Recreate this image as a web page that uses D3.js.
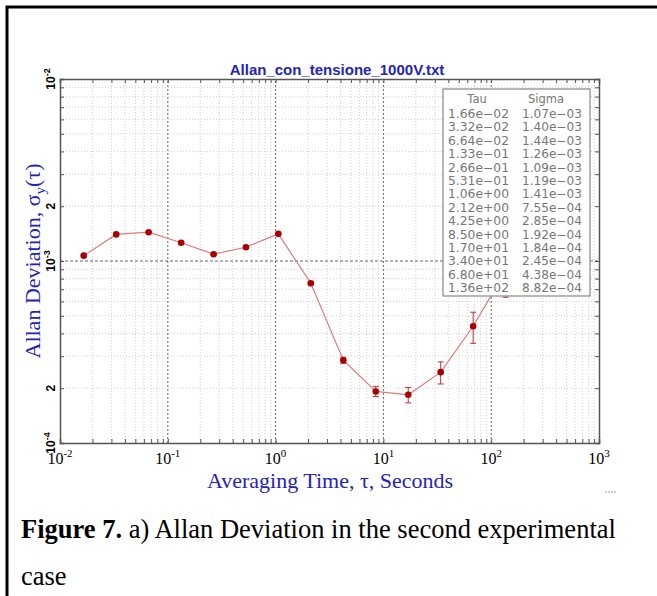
<!DOCTYPE html>
<html>
<head>
<meta charset="utf-8">
<script src="https://d3js.org/d3.v7.min.js"></script>
<style>
  body { margin: 0; background: white; }
  svg { display: block; }
</style>
</head>
<body>
<svg id="chart" width="657" height="596"></svg>
<script>
const tau   = [1.66e-2, 3.32e-2, 6.64e-2, 1.33e-1, 2.66e-1, 5.31e-1, 1.06e0, 2.12e0, 4.25e0, 8.50e0, 1.70e1, 3.40e1, 6.80e1, 1.36e2];
const sigma = [1.07e-3, 1.40e-3, 1.44e-3, 1.26e-3, 1.09e-3, 1.19e-3, 1.41e-3, 7.55e-4, 2.85e-4, 1.92e-4, 1.84e-4, 2.45e-4, 4.38e-4, 8.82e-4];
const sigmaErr = [4e-6, 6e-6, 8e-6, 8e-6, 8e-6, 1e-5, 1.4e-5, 1.6e-5, 1.1e-5, 1.2e-5, 1.8e-5, 3.4e-5, 8.5e-5, 2.5e-4];
const tauLabels   = ["1.66e-02","3.32e-02","6.64e-02","1.33e-01","2.66e-01","5.31e-01","1.06e+00","2.12e+00","4.25e+00","8.50e+00","1.70e+01","3.40e+01","6.80e+01","1.36e+02"];
const sigmaLabels = ["1.07e-03","1.40e-03","1.44e-03","1.26e-03","1.09e-03","1.19e-03","1.41e-03","7.55e-04","2.85e-04","1.92e-04","1.84e-04","2.45e-04","4.38e-04","8.82e-04"];
const xDecades = [-2, -1, 0, 1, 2, 3];
const yTicks = [
  {v: 1e-2, base: "10", exp: "-2"},
  {v: 2e-3, base: "2", exp: ""},
  {v: 1e-3, base: "10", exp: "-3"},
  {v: 2e-4, base: "2", exp: ""},
  {v: 1e-4, base: "10", exp: "-4"}
];

const svg = d3.select("svg#chart");
const serif = "'Liberation Serif', 'Times New Roman', serif";
const sans = "'Liberation Sans', Arial, sans-serif";
const blue = "#2424b8";

// outer frame of the figure
svg.append("rect")
   .attr("x", 7).attr("y", 7).attr("width", 700).attr("height", 700)
   .attr("fill", "none").attr("stroke", "black").attr("stroke-width", 3);

const x = d3.scaleLog().domain([1e-2, 1e3]).range([60, 599]);
const y = d3.scaleLog().domain([1e-4, 1e-2]).range([443, 79]);

// minor values
const xMinor = [], yMinor = [];
for (let e = -2; e < 3; e++) for (let m = 2; m <= 9; m++) xMinor.push(m * Math.pow(10, e));
for (let e = -4; e < -2; e++) for (let m = 2; m <= 9; m++) yMinor.push(m * Math.pow(10, e));

const grid = svg.append("g").attr("class", "gridlines");
grid.selectAll("line.vx").data(xMinor).join("line")
    .attr("x1", d => x(d)).attr("x2", d => x(d))
    .attr("y1", y(1e-4)).attr("y2", y(1e-2))
    .attr("stroke", "#cfcfcf").attr("stroke-dasharray", "1,2");
grid.selectAll("line.hy").data(yMinor).join("line")
    .attr("y1", d => y(d)).attr("y2", d => y(d))
    .attr("x1", x(1e-2)).attr("x2", x(1e3))
    .attr("stroke", "#cfcfcf").attr("stroke-dasharray", "1,2");
grid.selectAll("line.mx").data([1e-1, 1, 10, 100]).join("line")
    .attr("x1", d => x(d)).attr("x2", d => x(d))
    .attr("y1", y(1e-4)).attr("y2", y(1e-2))
    .attr("stroke", "#666").attr("stroke-dasharray", "2,2");
grid.append("line")
    .attr("y1", y(1e-3)).attr("y2", y(1e-3))
    .attr("x1", x(1e-2)).attr("x2", x(1e3))
    .attr("stroke", "#666").attr("stroke-dasharray", "3,2");

// axes with ticks on all sides
const axBottom = d3.axisBottom(x).tickValues(xMinor.concat([1e-1, 1, 10, 100])).tickSize(-4).tickFormat("");
const axTop = d3.axisTop(x).tickValues(xMinor.concat([1e-1, 1, 10, 100])).tickSize(-4).tickFormat("");
const axLeft = d3.axisLeft(y).tickValues(yMinor.concat([1e-3])).tickSize(-4).tickFormat("");
const axRight = d3.axisRight(y).tickValues(yMinor.concat([1e-3])).tickSize(-4).tickFormat("");
[[axBottom, `translate(0,${y(1e-4)})`], [axTop, `translate(0,${y(1e-2)})`],
 [axLeft, `translate(${x(1e-2)},0)`], [axRight, `translate(${x(1e3)},0)`]].forEach(([ax, tr]) => {
  const g = svg.append("g").attr("transform", tr).call(ax);
  g.select(".domain").attr("stroke", "#555").attr("stroke-width", 1.5);
  g.selectAll(".tick line").attr("stroke", "#555");
});

// x tick labels
const xl = svg.append("g");
xDecades.forEach(e => {
  const t = xl.append("text").attr("x", x(Math.pow(10, e))).attr("y", 464)
     .attr("text-anchor", "middle").attr("font-family", serif).attr("font-size", 16);
  t.append("tspan").text("10");
  t.append("tspan").attr("dy", -7).attr("font-size", 11).text(String(e));
});

// y tick labels, rotated
yTicks.forEach(d => {
  const t = svg.append("text")
     .attr("transform", `translate(55,${y(d.v)}) rotate(-90)`)
     .attr("text-anchor", "middle").attr("font-family", sans).attr("font-weight", "bold")
     .attr("font-size", 12);
  t.append("tspan").text(d.base);
  if (d.exp) t.append("tspan").attr("dy", -5).attr("font-size", 9).text(d.exp);
});

// titles
svg.append("text").attr("x", 337).attr("y", 75).attr("text-anchor", "middle")
   .attr("font-family", sans).attr("font-weight", "bold").attr("font-size", 15)
   .attr("fill", blue).text("Allan_con_tensione_1000V.txt");

svg.append("text").attr("x", 330).attr("y", 488).attr("text-anchor", "middle")
   .attr("font-family", serif).attr("font-size", 22).attr("fill", blue)
   .text("Averaging Time, \u03c4, Seconds");

const yt = svg.append("text").attr("transform", "translate(40,261) rotate(-90)")
   .attr("text-anchor", "middle").attr("font-family", serif).attr("font-size", 22)
   .attr("fill", blue);
yt.append("tspan").text("Allan Deviation, \u03c3");
yt.append("tspan").attr("dy", 5).attr("font-size", 15).text("y");
yt.append("tspan").attr("dy", -5).text("(\u03c4)");

// data line, error bars, points
const pts = tau.map((t, i) => ({t: t, s: sigma[i], e: sigmaErr[i]}));
svg.append("path").datum(pts)
   .attr("d", d3.line().x(d => x(d.t)).y(d => y(d.s)))
   .attr("fill", "none").attr("stroke", "#e07a7a").attr("stroke-width", 1.2);

const eb = svg.append("g").attr("stroke", "#c03030").attr("stroke-width", 1);
eb.selectAll("line.bar").data(pts).join("line")
  .attr("x1", d => x(d.t)).attr("x2", d => x(d.t))
  .attr("y1", d => y(d.s - d.e)).attr("y2", d => y(d.s + d.e));
eb.selectAll("line.top").data(pts).join("line")
  .attr("x1", d => x(d.t) - 3).attr("x2", d => x(d.t) + 3)
  .attr("y1", d => y(d.s + d.e)).attr("y2", d => y(d.s + d.e));
eb.selectAll("line.bot").data(pts).join("line")
  .attr("x1", d => x(d.t) - 3).attr("x2", d => x(d.t) + 3)
  .attr("y1", d => y(d.s - d.e)).attr("y2", d => y(d.s - d.e));

svg.selectAll("circle.pt").data(pts).join("circle")
   .attr("cx", d => x(d.t)).attr("cy", d => y(d.s)).attr("r", 3.3)
   .attr("fill", "#a80000");

// legend table
const lgFont = "'DejaVu Sans', sans-serif";
const lg = svg.append("g");
lg.append("rect").attr("x", 443).attr("y", 89).attr("width", 147).attr("height", 207)
  .attr("fill", "white").attr("stroke", "#888").attr("stroke-width", 1.2);
lg.append("text").attr("x", 477).attr("y", 103).attr("text-anchor", "middle")
  .attr("font-family", lgFont).attr("font-size", 11.5).attr("fill", "#777").text("Tau");
lg.append("text").attr("x", 546).attr("y", 103).attr("text-anchor", "middle")
  .attr("font-family", lgFont).attr("font-size", 11.5).attr("fill", "#777").text("Sigma");
tauLabels.forEach((lab, i) => {
  lg.append("text").attr("x", 448).attr("y", 118 + i * 13.4)
    .attr("font-family", lgFont).attr("font-size", 11.5).attr("fill", "#777")
    .attr("textLength", 61).attr("lengthAdjust", "spacingAndGlyphs").text(lab.replace("-", "\u2212"));
  lg.append("text").attr("x", 522).attr("y", 118 + i * 13.4)
    .attr("font-family", lgFont).attr("font-size", 11.5).attr("fill", "#777")
    .attr("textLength", 60).attr("lengthAdjust", "spacingAndGlyphs").text(sigmaLabels[i].replace("-", "\u2212"));
});

// little mark at bottom right
svg.append("line").attr("x1", 605).attr("x2", 617).attr("y1", 492).attr("y2", 492)
   .attr("stroke", "#999").attr("stroke-dasharray", "2,1");

// caption
const cap = svg.append("text").attr("x", 21).attr("y", 538)
   .attr("font-family", serif).attr("font-size", 26.5);
cap.append("tspan").attr("font-weight", "bold").text("Figure 7.");
cap.append("tspan").text(" a) Allan Deviation in the second experimental");
svg.append("text").attr("x", 21).attr("y", 585)
   .attr("font-family", serif).attr("font-size", 26.5).text("case");
</script>
</body>
</html>
